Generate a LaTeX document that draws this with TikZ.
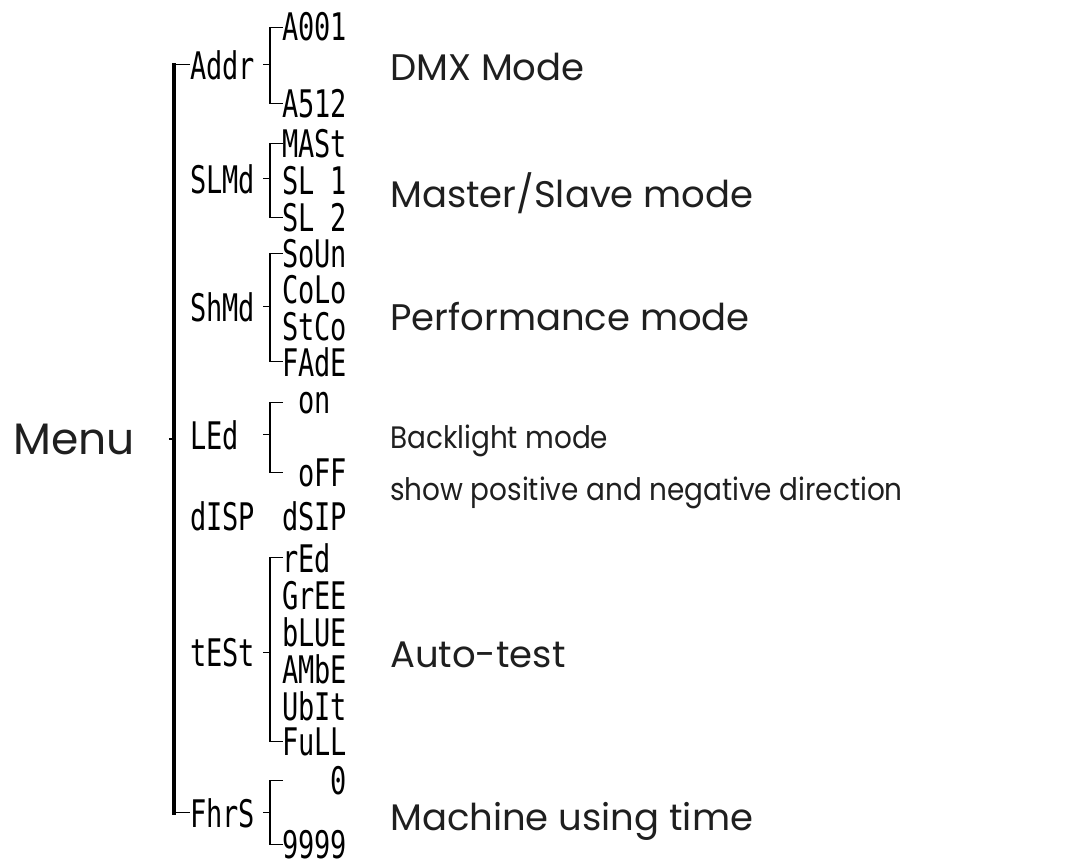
\documentclass[tikz,border=0pt]{standalone}
\usepackage{fontspec}
\usepackage{graphicx}
\usepackage{tikz}
\usetikzlibrary{positioning}
\setmainfont{Poppins}
\newfontfamily\lcdfont{DejaVu Sans Mono}
\newcommand{\lcd}[1]{\scalebox{0.71}[1]{#1}}
\newcommand{\narrow}[1]{\scalebox{0.9}[1]{#1}}

\begin{document}
\begin{tikzpicture}[x=1pt,y=-1pt,
  seg/.style={inner sep=0pt,anchor=base west,font=\lcdfont\fontsize{38}{38}\selectfont},
  note/.style={inner sep=0pt,anchor=base west,text=black!88,font=\fontsize{37}{37}\selectfont},
  small/.style={font=\fontsize{31}{31}\selectfont},
  link/.style={line width=1.3pt},
  spine/.style={line width=3.4pt,line cap=rect}]
\useasboundingbox (0,0) rectangle (1084,867);
% columns of the brackets
\coordinate (kx) at (263,0);
\coordinate (bx) at (270,0);
\coordinate (cx) at (283,0);
\def\fork#1#2#3{\draw[link] (kx |- #1.west) -- (bx |- #1.west);
  \draw[link] (cx |- #2.west) -- (bx |- #2.west) -- (bx |- #3.west) -- (cx |- #3.west);}

\node[note,font=\fontsize{44}{44}\selectfont] (menu) at (13,454) {Menu};

% first level
\node[seg] (addr) at (190,79) {\lcd{Addr}};
\node[seg] (slmd) at (190,193) {\lcd{SLMd}};
\node[seg] (shmd) at (190,321) {\lcd{ShMd}};
\node[seg] (led) at (190,449) {\lcd{LEd}};
\node[seg] (disp) at (190,530) {\lcd{dISP}};
\node[seg] (test) at (190,666) {\lcd{tESt}};
\node[seg] (fhrs) at (190,827) {\lcd{FhrS}};

% second level
\node[seg] (a001) at (282,41) {\lcd{A001}};
\node[seg] (a512) at (282,117) {\lcd{A512}};
\node[seg] (mast) at (282,157) {\lcd{MASt}};
\node[seg] (sl1) at (282,194) {\lcd{SL 1}};
\node[seg] (sl2) at (282,231) {\lcd{SL 2}};
\node[seg] (soun) at (282,267) {\lcd{SoUn}};
\node[seg] (colo) at (282,303) {\lcd{CoLo}};
\node[seg] (stco) at (282,340) {\lcd{StCo}};
\node[seg] (fade) at (282,376) {\lcd{FAdE}};
\node[seg] (on) at (298,413) {\lcd{on}};
\node[seg] (off) at (298,486) {\lcd{oFF}};
\node[seg] (dsip) at (282,530) {\lcd{dSIP}};
\node[seg] (red) at (282,572) {\lcd{rEd}};
\node[seg] (gree) at (282,609) {\lcd{GrEE}};
\node[seg] (blue) at (282,646) {\lcd{bLUE}};
\node[seg] (ambe) at (282,683) {\lcd{AMbE}};
\node[seg] (ubit) at (282,720) {\lcd{UbIt}};
\node[seg] (full) at (282,755) {\lcd{FuLL}};
\node[seg] (zero) at (330,794) {\lcd{0}};
\node[seg] (nines) at (282,858) {\lcd{9999}};

% notes
\node[note] (dmx) at (390,81) {DMX Mode};
\node[note] (ms) at (390,207) {Master/Slave mode};
\node[note] (perf) at (390,330) {Performance mode};
\node[note,small] (back) at (390,448) {\narrow{Backlight mode}};
\node[note,small] (dir) at (390,500) {\narrow{show positive and negative direction}};
\node[note] (auto) at (390,667) {Auto-test};
\node[note] (time) at (390,830) {Machine using time};

% main bracket
\draw[link] (addr.west) -- ++(-16,0) coordinate (st);
\draw[link] (fhrs.west) -- ++(-16,0) coordinate (sb);
\draw[spine] (st) -- (sb);
\draw[link] ([xshift=34pt]menu.east) -- (st |- menu.east);

\fork{addr}{a001}{a512}
\fork{slmd}{mast}{sl2}
\fork{shmd}{soun}{fade}
\fork{led}{on}{off}
\fork{test}{red}{full}
\fork{fhrs}{zero}{nines}
\end{tikzpicture}
\end{document}
